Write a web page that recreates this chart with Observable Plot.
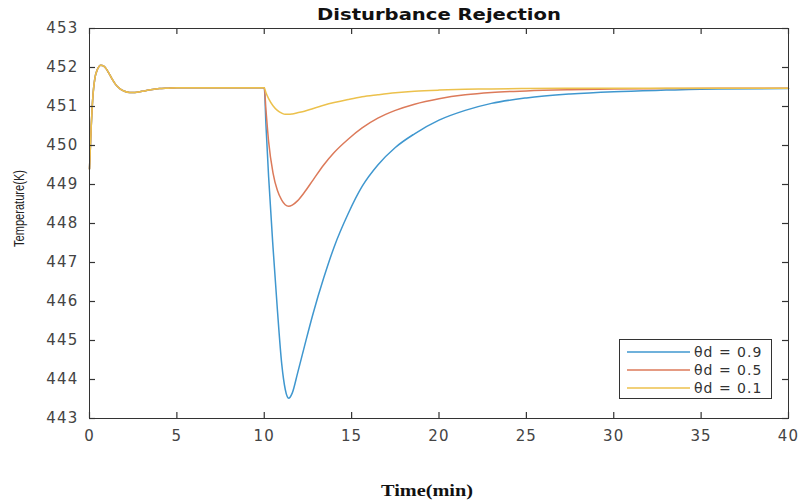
<!DOCTYPE html>
<html><head><meta charset="utf-8">
<script src="https://cdn.jsdelivr.net/npm/d3@7"></script>
<script src="https://cdn.jsdelivr.net/npm/@observablehq/plot@0.6"></script>
<style>
body{margin:0;background:#fff;}
#wrap{position:relative;width:798px;height:501px;}
#legend{position:absolute;left:619px;top:339px;width:153px;height:60px;border:1px solid #333;background:#fff;box-sizing:border-box;}
#legend svg{display:block;}
g[aria-label$="tick label"] text{letter-spacing:1.2px;}
</style>
</head><body>
<div id="wrap"><div id="legend"></div></div>
<script>
// ---- data ----
const chartTitle = "Disturbance Rejection";
const xLabel = "Time(min)";
const yLabel = "Temperature(K)";
const seriesNames = ["θd = 0.9", "θd = 0.5", "θd = 0.1"];
const seriesColors = ["#3f97cf", "#dc7a5a", "#ecc14c"];
const xTicks = [0, 5, 10, 15, 20, 25, 30, 35, 40];
const yTicks = [443, 444, 445, 446, 447, 448, 449, 450, 451, 452, 453];

// common start-up transient (all three series identical before t = 10)
const timeStart = [0, 0.1, 0.2, 0.3, 0.45, 0.65, 0.8, 0.95, 1.1, 1.3, 1.5, 1.75, 2.0, 2.3, 2.6, 3.0, 3.5, 4.0, 4.5, 5.0, 6.0, 8.0];
const tempStart = [449.4, 450.5, 451.3, 451.7, 451.95, 452.06, 452.04, 451.97, 451.86, 451.70, 451.56, 451.45, 451.39, 451.36, 451.36, 451.39, 451.43, 451.46, 451.47, 451.48, 451.48, 451.48];

// after the disturbance at t = 10
const timeDist = [10, 10.1, 10.25, 10.5, 10.75, 11.0, 11.2, 11.4, 11.6, 11.9, 12.3, 12.8, 13.4, 14, 14.8, 15.6, 16.5, 17.5, 18.6, 20, 21.5, 23, 25, 27.5, 30, 33, 36, 40];
const temp09 = [451.48, 450.5, 449.2, 447.4, 445.8, 444.4, 443.75, 443.52, 443.65, 444.15, 444.85, 445.7, 446.6, 447.4, 448.25, 448.95, 449.5, 449.95, 450.3, 450.65, 450.9, 451.08, 451.22, 451.32, 451.38, 451.42, 451.45, 451.46];
const temp05 = [451.48, 450.9, 450.1, 449.3, 448.85, 448.6, 448.48, 448.44, 448.47, 448.58, 448.8, 449.12, 449.5, 449.82, 450.16, 450.45, 450.7, 450.9, 451.06, 451.2, 451.3, 451.36, 451.4, 451.43, 451.45, 451.46, 451.47, 451.47];
const temp01 = [451.48, 451.35, 451.2, 451.02, 450.9, 450.83, 450.8, 450.8, 450.81, 450.84, 450.88, 450.95, 451.03, 451.1, 451.18, 451.25, 451.3, 451.35, 451.39, 451.42, 451.44, 451.45, 451.46, 451.47, 451.47, 451.47, 451.47, 451.47];
const distValues = [temp09, temp05, temp01];

// ---- build table ----
const rows = [];
seriesNames.forEach((name, i) => {
  timeStart.forEach((t, j) => rows.push({series: name, t, v: tempStart[j]}));
  timeDist.forEach((t, j) => rows.push({series: name, t, v: distValues[i][j]}));
});

const W = 798, H = 501, ML = 89, MR = 10, MT = 28, MB = 83, TICK = 6;
const frameW = W - ML - MR, frameH = H - MT - MB;

const chart = Plot.plot({
  width: W, height: H,
  marginLeft: ML, marginRight: MR, marginTop: MT, marginBottom: MB,
  x: {domain: [0, 40], label: null},
  y: {domain: [443, 453], label: null},
  color: {domain: seriesNames, range: seriesColors},
  style: {fontFamily: "DejaVu Sans", fontSize: "15px", color: "#3a3a3a", background: "white"},
  marks: [
    Plot.line(rows, {x: "t", y: "v", stroke: "series", strokeWidth: 1.5, curve: "monotone-x"}),
    Plot.frame({stroke: "#333"}),
    Plot.axisX(xTicks, {anchor: "bottom", tickSize: 0, tickPadding: 12, label: null, fill: "#444"}),
    Plot.axisY(yTicks, {anchor: "left", tickSize: 0, tickPadding: 11, label: null, fill: "#444"}),
    // inward ticks on all four sides
    Plot.ruleX(xTicks, {x: d => d, insetTop: frameH - TICK, stroke: "#333", strokeWidth: 1.2}),
    Plot.ruleX(xTicks, {x: d => d, insetBottom: frameH - TICK, stroke: "#333", strokeWidth: 1.2}),
    Plot.ruleY(yTicks, {y: d => d, insetRight: frameW - TICK, stroke: "#333", strokeWidth: 1.2}),
    Plot.ruleY(yTicks, {y: d => d, insetLeft: frameW - TICK, stroke: "#333", strokeWidth: 1.2}),
    Plot.text([chartTitle], {frameAnchor: "top", dy: -13, lineAnchor: "middle", fontWeight: "bold", fontSize: 15, fill: "#111"}),
    Plot.text([xLabel], {frameAnchor: "bottom", dy: 72, dx: -12, lineAnchor: "middle", fontFamily: "Liberation Serif", fontWeight: "bold", fontSize: 17, fill: "#111"}),
    Plot.text([yLabel], {frameAnchor: "left", textAnchor: "middle", rotate: -90, dx: -70, dy: -15, lineAnchor: "middle", fontFamily: "Liberation Sans", fontSize: 14, fill: "#222"})
  ]
});
document.getElementById("wrap").prepend(chart);

// stretch text widths to match the (horizontally stretched) original
const svg = d3.select(chart);
const stretch = {[chartTitle]: 244, [xLabel]: 92, [yLabel]: 77};
svg.selectAll("text").each(function() {
  const w = stretch[this.textContent];
  if (w) d3.select(this).attr("textLength", w).attr("lengthAdjust", "spacingAndGlyphs");
});

// ---- legend ----
const lg = d3.select("#legend").append("svg").attr("width", 151).attr("height", 58);
seriesNames.forEach((name, i) => {
  const y = 12 + i * 18;
  lg.append("line").attr("x1", 7).attr("x2", 70).attr("y1", y).attr("y2", y)
    .attr("stroke", seriesColors[i]).attr("stroke-width", 1.5);
  lg.append("text").attr("x", 74).attr("y", y).attr("dy", "0.35em")
    .attr("font-family", "DejaVu Sans").attr("font-size", 14).attr("letter-spacing", "1px")
    .attr("fill", "#333").text(name);
});
</script>
</body></html>
